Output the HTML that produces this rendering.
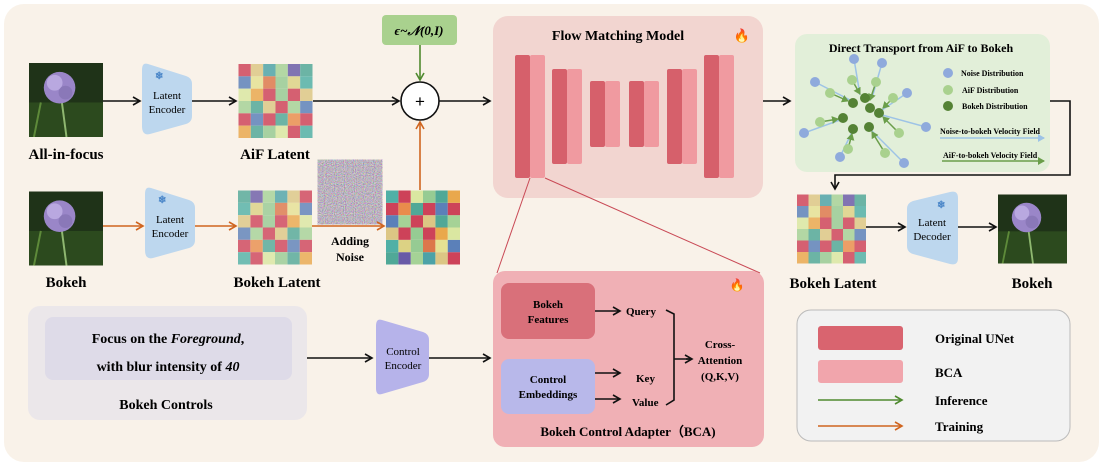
<!DOCTYPE html>
<html><head><meta charset="utf-8"><style>
html,body{margin:0;padding:0;background:#fff;}
svg{display:block;font-family:"Liberation Serif",serif;font-weight:bold;}
</style></head><body>
<svg width="1104" height="467" viewBox="0 0 1104 467" xmlns="http://www.w3.org/2000/svg">
<defs>
<marker id="ak" markerWidth="10" markerHeight="10" refX="8" refY="5" orient="auto" markerUnits="userSpaceOnUse"><path d="M1,1 L8,5 L1,9" fill="none" stroke="#111" stroke-width="1.6"/></marker>
<marker id="ao" markerWidth="10" markerHeight="10" refX="8" refY="5" orient="auto" markerUnits="userSpaceOnUse"><path d="M1,1 L8,5 L1,9" fill="none" stroke="#d0651f" stroke-width="1.6"/></marker>
<marker id="ag" markerWidth="10" markerHeight="10" refX="8" refY="5" orient="auto" markerUnits="userSpaceOnUse"><path d="M1,1 L8,5 L1,9" fill="none" stroke="#4f8a2f" stroke-width="1.6"/></marker>
<marker id="gg" markerWidth="8" markerHeight="8" refX="6" refY="4" orient="auto" markerUnits="userSpaceOnUse"><path d="M0,0 L7,4 L0,8Z" fill="#6a9e4a"/></marker>
<marker id="gb" markerWidth="8" markerHeight="8" refX="6" refY="4" orient="auto" markerUnits="userSpaceOnUse"><path d="M0,0 L7,4 L0,8Z" fill="#9dc3e6"/></marker>
<filter id="nz"><feTurbulence type="fractalNoise" baseFrequency="0.9" numOctaves="1" seed="3"/><feColorMatrix type="matrix" values="1.0 0 0 0 0.0 0 1.0 0 0 -0.05 0 0 1.0 0 0.02 0 0 0 0 1"/></filter>
<symbol id="grid" viewBox="0 0 75 75">
<g>
<rect x="0" y="0" width="12.5" height="12.5" fill="#c9304a"/><rect x="12.5" y="0" width="12.5" height="12.5" fill="#d9c27a"/><rect x="25" y="0" width="12.5" height="12.5" fill="#3a9aa0"/><rect x="37.5" y="0" width="12.5" height="12.5" fill="#9ccf8e"/><rect x="50" y="0" width="12.5" height="12.5" fill="#5a4aa0"/><rect x="62.5" y="0" width="12.5" height="12.5" fill="#3ea08f"/>
<rect x="0" y="12.5" width="12.5" height="12.5" fill="#4a74b4"/><rect x="12.5" y="12.5" width="12.5" height="12.5" fill="#e3e08a"/><rect x="25" y="12.5" width="12.5" height="12.5" fill="#d96a3a"/><rect x="37.5" y="12.5" width="12.5" height="12.5" fill="#8cc78a"/><rect x="50" y="12.5" width="12.5" height="12.5" fill="#d9cf7a"/><rect x="62.5" y="12.5" width="12.5" height="12.5" fill="#3ea99f"/>
<rect x="0" y="25" width="12.5" height="12.5" fill="#d7e69a"/><rect x="12.5" y="25" width="12.5" height="12.5" fill="#e8a03c"/><rect x="25" y="25" width="12.5" height="12.5" fill="#c9304a"/><rect x="37.5" y="25" width="12.5" height="12.5" fill="#8cc78a"/><rect x="50" y="25" width="12.5" height="12.5" fill="#c9304a"/><rect x="62.5" y="25" width="12.5" height="12.5" fill="#d9c27a"/>
<rect x="0" y="37.5" width="12.5" height="12.5" fill="#9ccf8e"/><rect x="12.5" y="37.5" width="12.5" height="12.5" fill="#3ea08f"/><rect x="25" y="37.5" width="12.5" height="12.5" fill="#d9c27a"/><rect x="37.5" y="37.5" width="12.5" height="12.5" fill="#c9304a"/><rect x="50" y="37.5" width="12.5" height="12.5" fill="#9ccf8e"/><rect x="62.5" y="37.5" width="12.5" height="12.5" fill="#4a74b4"/>
<rect x="0" y="50" width="12.5" height="12.5" fill="#c9304a"/><rect x="12.5" y="50" width="12.5" height="12.5" fill="#4a74b4"/><rect x="25" y="50" width="12.5" height="12.5" fill="#c9304a"/><rect x="37.5" y="50" width="12.5" height="12.5" fill="#3ea08f"/><rect x="50" y="50" width="12.5" height="12.5" fill="#e8823c"/><rect x="62.5" y="50" width="12.5" height="12.5" fill="#c9304a"/>
<rect x="0" y="62.5" width="12.5" height="12.5" fill="#e8a03c"/><rect x="12.5" y="62.5" width="12.5" height="12.5" fill="#3ea08f"/><rect x="25" y="62.5" width="12.5" height="12.5" fill="#8cc78a"/><rect x="37.5" y="62.5" width="12.5" height="12.5" fill="#d7e69a"/><rect x="50" y="62.5" width="12.5" height="12.5" fill="#c9304a"/><rect x="62.5" y="62.5" width="12.5" height="12.5" fill="#3ea99f"/>
</g>
</symbol>
<symbol id="flower" viewBox="0 0 75 75">
<rect width="75" height="75" fill="#1f3318"/>
<rect x="0" y="40" width="75" height="35" fill="#2c4a1e"/>
<path d="M32,30 L38,75" stroke="#8fb870" stroke-width="2"/>
<path d="M5,75 L12,40" stroke="#5e8a3a" stroke-width="2"/>
<circle cx="31" cy="25" r="16" fill="#9a86c8"/>
<circle cx="26" cy="20" r="8" fill="#b9a8e0"/>
<circle cx="37" cy="30" r="7" fill="#8a78b8"/>
</symbol>
</defs>

<rect x="4" y="4" width="1095" height="458" rx="20" fill="#f9f2e9"/>

<use href="#flower" x="29" y="63" width="74" height="74"/>
<text x="66" y="159" font-size="15" text-anchor="middle">All-in-focus</text>
<line x1="103" y1="101" x2="140" y2="101" stroke="#111" stroke-width="1.6" marker-end="url(#ak)"/>
<path d="M148,64 Q142,62 142,70 L142,126 Q142,136 150,134 L186,124 Q192,122 192,116 L192,84 Q192,78 186,76 Z" fill="#bdd7ee"/>
<text x="155" y="79" font-size="10" fill="#4a86c8">❄</text>
<text x="167" y="99" font-size="11" text-anchor="middle" font-weight="normal">Latent</text>
<text x="167" y="113" font-size="11" text-anchor="middle" font-weight="normal">Encoder</text>
<line x1="192" y1="101" x2="236" y2="101" stroke="#111" stroke-width="1.6" marker-end="url(#ak)"/>
<use href="#grid" x="238" y="64" width="75" height="74" opacity="0.75"/>
<text x="275" y="159" font-size="15" text-anchor="middle">AiF Latent</text>
<line x1="313" y1="101" x2="399" y2="101" stroke="#111" stroke-width="1.6" marker-end="url(#ak)"/>
<circle cx="420" cy="101" r="19" fill="#fff" stroke="#111" stroke-width="1.6"/>
<text x="420" y="107" font-size="17" text-anchor="middle" font-weight="normal" font-family="Liberation Sans">+</text>
<rect x="382" y="15" width="75" height="30" rx="4" fill="#a9d18e"/>
<text x="419" y="35" font-size="13" text-anchor="middle" font-style="italic">ϵ~𝒩(0,I)</text>
<line x1="420" y1="45" x2="420" y2="80" stroke="#4f8a2f" stroke-width="1.6" marker-end="url(#ag)"/>
<line x1="439" y1="101" x2="490" y2="101" stroke="#111" stroke-width="1.6" marker-end="url(#ak)"/>

<use href="#flower" x="29" y="191" width="74" height="75"/>
<text x="66" y="287" font-size="15" text-anchor="middle">Bokeh</text>
<line x1="103" y1="226" x2="143" y2="226" stroke="#d0651f" stroke-width="1.6" marker-end="url(#ao)"/>
<path d="M151,188 Q145,186 145,194 L145,250 Q145,260 153,258 L189,248 Q195,246 195,240 L195,208 Q195,202 189,200 Z" fill="#bdd7ee"/>
<text x="158" y="203" font-size="10" fill="#4a86c8">❄</text>
<text x="170" y="223" font-size="11" text-anchor="middle" font-weight="normal">Latent</text>
<text x="170" y="237" font-size="11" text-anchor="middle" font-weight="normal">Encoder</text>
<line x1="195" y1="226" x2="236" y2="226" stroke="#d0651f" stroke-width="1.6" marker-end="url(#ao)"/>
<use href="#grid" x="238" y="190" width="74" height="75" opacity="0.72" transform="translate(550,0) scale(-1,1)" />
<text x="277" y="287" font-size="15" text-anchor="middle">Bokeh Latent</text>
<rect x="323" y="165" width="54" height="54" fill="#888" filter="url(#nz)"/>
<line x1="312" y1="226" x2="384" y2="226" stroke="#d0651f" stroke-width="1.6" marker-end="url(#ao)"/>
<text x="350" y="245" font-size="12" text-anchor="middle">Adding</text>
<text x="350" y="261" font-size="12" text-anchor="middle">Noise</text>
<use href="#grid" x="386" y="190" width="74" height="75" opacity="0.9" transform="rotate(180 423 227.5)"/>
<line x1="420" y1="190" x2="420" y2="122" stroke="#d0651f" stroke-width="1.6" marker-end="url(#ao)"/>

<rect x="493" y="16" width="270" height="182" rx="15" fill="#f2d5d0"/>
<text x="618" y="40" font-size="14" text-anchor="middle">Flow Matching Model</text>
<text x="742" y="40" font-size="13" text-anchor="middle" fill="#f07020">🔥</text>
<g fill="#d6606b">
<rect x="515" y="55" width="15" height="123" rx="2"/><rect x="552" y="69" width="15" height="95" rx="2"/><rect x="590" y="81" width="15" height="66" rx="2"/><rect x="629" y="81" width="15" height="66" rx="2"/><rect x="667" y="69" width="15" height="95" rx="2"/><rect x="704" y="55" width="15" height="123" rx="2"/>
</g>
<g fill="#f09aa0">
<rect x="530" y="55" width="15" height="123" rx="2"/><rect x="567" y="69" width="15" height="95" rx="2"/><rect x="605" y="81" width="15" height="66" rx="2"/><rect x="644" y="81" width="15" height="66" rx="2"/><rect x="682" y="69" width="15" height="95" rx="2"/><rect x="719" y="55" width="15" height="123" rx="2"/>
</g>
<line x1="530" y1="178" x2="497" y2="273" stroke="#c94a56" stroke-width="1"/>
<line x1="545" y1="178" x2="760" y2="273" stroke="#c94a56" stroke-width="1"/>
<line x1="763" y1="101" x2="790" y2="101" stroke="#111" stroke-width="1.6" marker-end="url(#ak)"/>

<rect x="795" y="34" width="255" height="138" rx="12" fill="#e2efd9"/>
<text x="921" y="52" font-size="12" text-anchor="middle">Direct Transport from AiF to Bokeh</text>
<g stroke="#9dc3e6" stroke-width="1.5">
<line x1="854" y1="59" x2="860" y2="95"/><line x1="882" y1="63" x2="872" y2="98"/><line x1="815" y1="82" x2="850" y2="100"/><line x1="907" y1="93" x2="882" y2="110"/><line x1="926" y1="127" x2="882" y2="115"/><line x1="804" y1="133" x2="840" y2="120"/><line x1="840" y1="157" x2="852" y2="132"/><line x1="904" y1="163" x2="871" y2="130"/>
</g>
<g stroke="#6a9e4a" stroke-width="1.5">
<line x1="852" y1="80" x2="860" y2="94" marker-end="url(#gg)"/><line x1="876" y1="82" x2="870" y2="100" marker-end="url(#gg)"/><line x1="830" y1="93" x2="848" y2="101" marker-end="url(#gg)"/><line x1="893" y1="98" x2="883" y2="108" marker-end="url(#gg)"/><line x1="820" y1="122" x2="838" y2="119" marker-end="url(#gg)"/><line x1="899" y1="133" x2="883" y2="117" marker-end="url(#gg)"/><line x1="848" y1="149" x2="852" y2="134" marker-end="url(#gg)"/><line x1="885" y1="153" x2="872" y2="132" marker-end="url(#gg)"/>
</g>
<g fill="#8faadc"><circle cx="854" cy="59" r="5"/><circle cx="882" cy="63" r="5"/><circle cx="815" cy="82" r="5"/><circle cx="907" cy="93" r="5"/><circle cx="926" cy="127" r="5"/><circle cx="804" cy="133" r="5"/><circle cx="840" cy="157" r="5"/><circle cx="904" cy="163" r="5"/><circle cx="948" cy="73" r="5"/></g>
<g fill="#a9d18e"><circle cx="852" cy="80" r="5"/><circle cx="876" cy="82" r="5"/><circle cx="830" cy="93" r="5"/><circle cx="893" cy="98" r="5"/><circle cx="820" cy="122" r="5"/><circle cx="899" cy="133" r="5"/><circle cx="848" cy="149" r="5"/><circle cx="885" cy="153" r="5"/><circle cx="948" cy="90" r="5"/></g>
<g fill="#548235"><circle cx="853" cy="103" r="5"/><circle cx="865" cy="98" r="5"/><circle cx="870" cy="108" r="5"/><circle cx="879" cy="113" r="5"/><circle cx="843" cy="118" r="5"/><circle cx="853" cy="129" r="5"/><circle cx="869" cy="127" r="5"/><circle cx="948" cy="106" r="5"/></g>
<g font-size="8"><text x="961" y="76">Noise Distribution</text><text x="962" y="93">AiF Distribution</text><text x="962" y="109">Bokeh Distribution</text>
<text x="940" y="134">Noise-to-bokeh Velocity Field</text><text x="943" y="158">AiF-to-bokeh Velocity Field</text></g>
<line x1="940" y1="138" x2="1044" y2="138" stroke="#9dc3e6" stroke-width="1.5" marker-end="url(#gb)"/>
<line x1="942" y1="161" x2="1044" y2="161" stroke="#6a9e4a" stroke-width="1.5" marker-end="url(#gg)"/>
<path d="M1050,101 L1070,101 L1070,175 L835,175 L835,189" fill="none" stroke="#111" stroke-width="1.6" marker-end="url(#ak)"/>

<use href="#grid" x="797" y="193" width="69" height="72" opacity="0.75"/>
<text x="833" y="288" font-size="15" text-anchor="middle">Bokeh Latent</text>
<line x1="866" y1="227" x2="905" y2="227" stroke="#111" stroke-width="1.6" marker-end="url(#ak)"/>
<path d="M907,209 Q907,203 913,201 L950,192 Q958,190 958,198 L958,258 Q958,266 950,264 L913,254 Q907,252 907,246 Z" fill="#bdd7ee"/>
<text x="937" y="208" font-size="10" fill="#4a86c8">❄</text>
<text x="932" y="226" font-size="11" text-anchor="middle" font-weight="normal">Latent</text>
<text x="932" y="240" font-size="11" text-anchor="middle" font-weight="normal">Decoder</text>
<line x1="958" y1="227" x2="996" y2="227" stroke="#111" stroke-width="1.6" marker-end="url(#ak)"/>
<use href="#flower" x="998" y="193" width="69" height="72"/>
<text x="1032" y="288" font-size="15" text-anchor="middle">Bokeh</text>

<rect x="28" y="306" width="279" height="114" rx="12" fill="#ebe7ea"/>
<rect x="45" y="317" width="247" height="63" rx="8" fill="#dedbe8"/>
<text x="168" y="343" font-size="14" text-anchor="middle">Focus on the <tspan font-style="italic">Foreground</tspan>,</text>
<text x="168" y="371" font-size="14" text-anchor="middle">with blur intensity of <tspan font-style="italic">40</tspan></text>
<text x="166" y="409" font-size="14" text-anchor="middle">Bokeh Controls</text>
<line x1="307" y1="358" x2="372" y2="358" stroke="#111" stroke-width="1.6" marker-end="url(#ak)"/>
<path d="M382,320 Q376,318 376,326 L376,388 Q376,396 382,394 L423,382 Q429,380 429,374 L429,340 Q429,334 423,332 Z" fill="#b6b3ea"/>
<text x="403" y="355" font-size="11" text-anchor="middle" font-weight="normal">Control</text>
<text x="403" y="369" font-size="11" text-anchor="middle" font-weight="normal">Encoder</text>
<line x1="429" y1="358" x2="490" y2="358" stroke="#111" stroke-width="1.6" marker-end="url(#ak)"/>

<rect x="493" y="271" width="271" height="176" rx="12" fill="#f0b0b5"/>
<text x="737" y="289" font-size="12" text-anchor="middle">🔥</text>
<rect x="501" y="283" width="94" height="56" rx="8" fill="#d9707a"/>
<text x="548" y="308" font-size="11" text-anchor="middle">Bokeh</text>
<text x="548" y="323" font-size="11" text-anchor="middle">Features</text>
<rect x="501" y="359" width="94" height="55" rx="8" fill="#b8b8ea"/>
<text x="548" y="383" font-size="11" text-anchor="middle">Control</text>
<text x="548" y="398" font-size="11" text-anchor="middle">Embeddings</text>
<line x1="595" y1="311" x2="620" y2="311" stroke="#111" stroke-width="1.6" marker-end="url(#ak)"/>
<line x1="595" y1="373" x2="620" y2="373" stroke="#111" stroke-width="1.6" marker-end="url(#ak)"/>
<line x1="595" y1="399" x2="620" y2="399" stroke="#111" stroke-width="1.6" marker-end="url(#ak)"/>
<g font-size="11"><text x="626" y="315">Query</text><text x="636" y="382">Key</text><text x="632" y="406">Value</text></g>
<path d="M666,310 L674,314 L674,400 L666,405 M674,359 L690,359" fill="none" stroke="#111" stroke-width="1.6"/>
<line x1="686" y1="359" x2="692" y2="359" stroke="#111" stroke-width="1.6" marker-end="url(#ak)"/>
<g font-size="11" text-anchor="middle"><text x="720" y="348">Cross-</text><text x="720" y="364">Attention</text><text x="720" y="380">(Q,K,V)</text></g>
<text x="628" y="436" font-size="13" text-anchor="middle">Bokeh Control Adapter（BCA)</text>

<rect x="797" y="310" width="273" height="131" rx="14" fill="#f2f2f2" stroke="#bbb" stroke-width="1"/>
<rect x="818" y="326" width="85" height="24" rx="3" fill="#d9646f"/>
<rect x="818" y="360" width="85" height="23" rx="3" fill="#f1a5ac"/>
<line x1="818" y1="400" x2="902" y2="400" stroke="#4f8a2f" stroke-width="1.6" marker-end="url(#ag)"/>
<line x1="818" y1="426" x2="902" y2="426" stroke="#d0651f" stroke-width="1.6" marker-end="url(#ao)"/>
<g font-size="13"><text x="935" y="343">Original UNet</text><text x="935" y="377">BCA</text><text x="935" y="405">Inference</text><text x="935" y="431">Training</text></g>
</svg>
</body></html>
